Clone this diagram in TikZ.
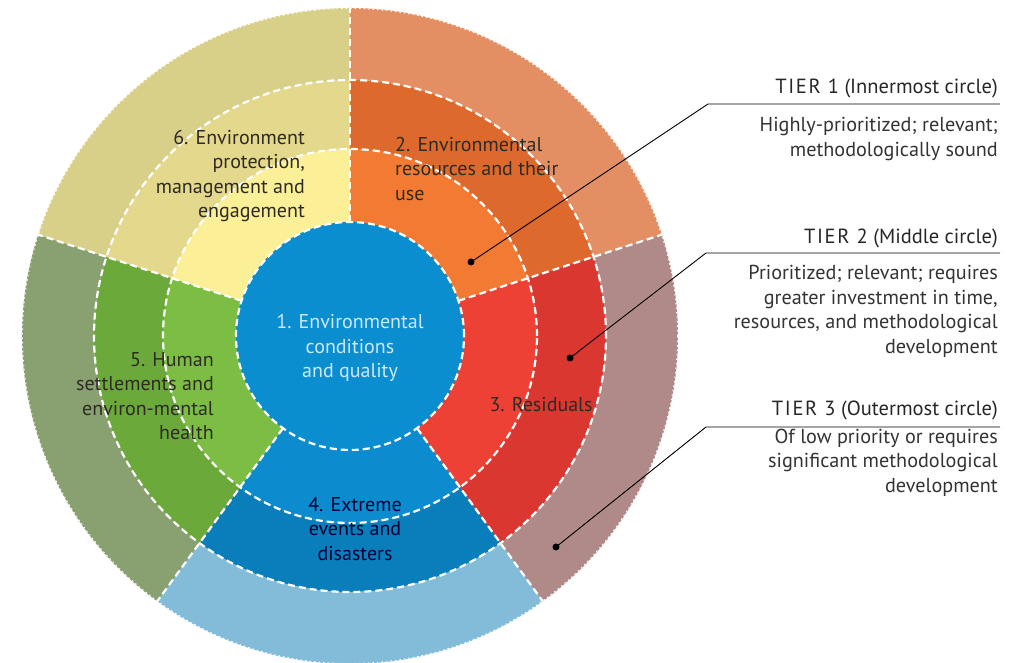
\documentclass[tikz,border=0pt]{standalone}
\usepackage{fontspec}
\setmainfont{PT Sans}
\definecolor{cblue}{HTML}{0A8ED0}
\definecolor{ctxt}{HTML}{CDE8F6}
\definecolor{s2a}{HTML}{F27A33}\definecolor{s2b}{HTML}{DD6A2C}\definecolor{s2c}{HTML}{E38F63}
\definecolor{s3a}{HTML}{EE4135}\definecolor{s3b}{HTML}{D9372F}\definecolor{s3c}{HTML}{B08A88}
\definecolor{s4a}{HTML}{0C8CCE}\definecolor{s4b}{HTML}{0A7DBB}\definecolor{s4c}{HTML}{82BCD9}
\definecolor{s5a}{HTML}{7BBE43}\definecolor{s5b}{HTML}{6BA93B}\definecolor{s5c}{HTML}{89A070}
\definecolor{s6a}{HTML}{FBEF98}\definecolor{s6b}{HTML}{E4D88C}\definecolor{s6c}{HTML}{D8D088}
\definecolor{dtxt}{HTML}{2E2A24}
\begin{document}
\begin{tikzpicture}[x=1pt,y=1pt,
  wdash/.style={draw=white,line width=2.2pt,dash pattern=on 7pt off 4pt},
  perf/.style={draw=white,line width=0.9pt,dash pattern=on 1.5pt off 3pt},
  lab/.style={font=\fontsize{20}{24.5}\selectfont, text=dtxt, inner sep=0pt},
  hd/.style={font=\fontsize{20.5}{24}\selectfont, text=black!85, inner sep=0pt},
  desc/.style={font=\fontsize{20.2}{24.5}\selectfont, text=black!80, inner sep=0pt, align=right, anchor=east},
  dot/.style={circle,fill=black,inner sep=0pt,minimum size=7pt},
  lead/.style={draw=black,line width=0.9pt}]
\useasboundingbox (0,0) rectangle (1010,663);
\begin{scope}[shift={(350,327)}]
\foreach \a/\b/\ca/\cb/\cc in {18/90/s2a/s2b/s2c, -54/18/s3a/s3b/s3c, -126/-54/s4a/s4b/s4c, 162/234/s5a/s5b/s5c, 90/162/s6a/s6b/s6c}{
  \fill[\ca] (\a:113) arc[start angle=\a,end angle=\b,radius=113] -- (\b:187) arc[start angle=\b,end angle=\a,radius=187] -- cycle;
  \fill[\cb] (\a:187) arc[start angle=\a,end angle=\b,radius=187] -- (\b:256) arc[start angle=\b,end angle=\a,radius=256] -- cycle;
  \fill[\cc] (\a:256) arc[start angle=\a,end angle=\b,radius=256] -- (\b:328) arc[start angle=\b,end angle=\a,radius=328] -- cycle;
}
\fill[cblue] (0,0) circle (114);
\draw[wdash] (0,0) circle (114);
\draw[wdash] (0,0) circle (187);
\draw[wdash] (0,0) circle (256);
\foreach \a in {90,18,-54,-126,162} \draw[wdash] (\a:114) -- (\a:328);
\draw[perf] (0,0) circle (327.5);
\end{scope}
% circle labels
\node[lab, anchor=east, align=right] (n6) at (305,487) {6. Environment\\protection,\\management and\\engagement};
\node[lab, anchor=west, align=left] (n2) at (395,494) {2. Environmental\\resources and their\\use};
\node[lab, text=ctxt, align=center] (n1) at (350,315) {1. Environmental\\conditions\\and quality};
\node[lab, anchor=east, align=right] (n5) at (214,267) {5. Human\\settlements and\\environ-mental\\health};
\node[lab] (n3) at (541,258) {3. Residuals};
\node[lab, text=black!80!blue, align=center] (n4) at (355,134) {4. Extreme\\events and\\disasters};
% tier texts
\node[hd, anchor=east] (h1) at (998,575) {{\addfontfeature{LetterSpace=8}TIER 1} (Innermost circle)};
\node[desc] (t1) at (998,524) {Highly-prioritized; relevant;\\methodologically sound};
\node[hd, anchor=east] (h2) at (998,425) {{\addfontfeature{LetterSpace=8}TIER 2} (Middle circle)};
\node[desc] (t2) at (998,351.5) {Prioritized; relevant; requires\\greater investment in time,\\resources, and methodological\\development};
\node[hd, anchor=east] (h3) at (998,253) {{\addfontfeature{LetterSpace=8}TIER 3} (Outermost circle)};
\node[desc] (t3) at (998,200.5) {Of low priority or requires\\significant methodological\\development};
% leaders
\node[dot] (d1) at (471,401) {};
\node[dot] (d2) at (570,305) {};
\node[dot] (d3) at (556,116) {};
\coordinate (k1) at (708,559); \coordinate (e1) at (1000,559);
\coordinate (k2) at (706,410); \coordinate (e2) at (1000,410);
\coordinate (k3) at (706,236); \coordinate (e3) at (1000,236);
\draw[lead] (d1.center) -- (k1) -- (e1);
\draw[lead] (d2.center) -- (k2) -- (e2);
\draw[lead] (d3.center) -- (k3) -- (e3);
\end{tikzpicture}
\end{document}
